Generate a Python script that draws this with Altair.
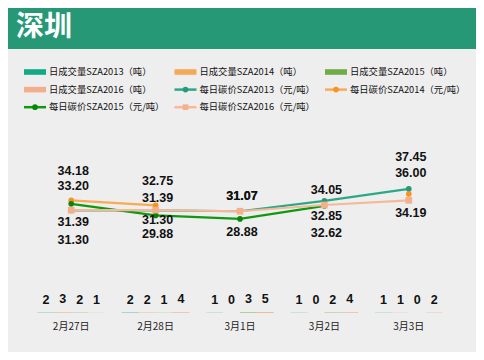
import altair as alt
import pandas as pd

# ---------------- data ----------------
dates = ["2月27日", "2月28日", "3月1日", "3月2日", "3月3日"]

bar_names = ["日成交量SZA2013（吨）", "日成交量SZA2014（吨）", "日成交量SZA2015（吨）", "日成交量SZA2016（吨）"]
line_names = ["每日碳价SZA2013（元/吨）", "每日碳价SZA2014（元/吨）", "每日碳价SZA2015（元/吨）", "每日碳价SZA2016（元/吨）"]

volume_2013 = [2, 2, 1, 1, 1]
volume_2014 = [3, 2, 0, 0, 1]
volume_2015 = [2, 1, 3, 2, 0]
volume_2016 = [1, 4, 5, 4, 2]

price_2013 = [31.30, 31.30, 31.07, 34.05, 37.45]
price_2014 = [34.18, 32.75, None, None, 36.00]
price_2015 = [33.20, 29.88, 28.88, 32.62, None]
price_2016 = [31.39, 31.39, 31.07, 32.85, 34.19]

# label nudges in pixels (keeps overlapping value labels apart, as in the source)
nudge_2013 = [30, 10, -15, -11, -32]
nudge_2014 = [-29, -24, 0, 0, -21]
nudge_2015 = [-18, 19, 13, 27, 0]
nudge_2016 = [12, -12, -15, 11, 13]

# ---------------- style ----------------
bar_colors = ["#12AA84", "#F4A957", "#70AD47", "#F4AE8E"]
line_colors = ["#2BA887", "#F9AA55", "#0E990E", "#F5B99A"]
marker_colors = ["#28997A", "#F7931E", "#0A850A", "#F4B08C"]
marker_shapes = ["circle", "circle", "circle", "square"]
header_color = "#269876"
bg_color = "#EEEEEE"
FONT = "Noto Sans CJK SC"
NUMFONT = "Liberation Sans"

W, H = 422, 168
PAD = {"left": 21, "top": 137, "right": 25, "bottom": 39}

# ---------------- tables ----------------
vols = [volume_2013, volume_2014, volume_2015, volume_2016]
bar_rows = []
for name, vv in zip(bar_names, vols):
    for d, v in zip(dates, vv):
        bar_rows.append({"date": d, "series": name, "vol": v})
bar_df = pd.DataFrame(bar_rows)

prices = [price_2013, price_2014, price_2015, price_2016]
nudges = [nudge_2013, nudge_2014, nudge_2015, nudge_2016]
line_rows = []
for k, (name, pp, nn) in enumerate(zip(line_names, prices, nudges)):
    seg = 0
    prev_none = False
    for d, p, n in zip(dates, pp, nn):
        if p is None:
            prev_none = True
            continue
        if prev_none:
            seg += 1
            prev_none = False
        line_rows.append({"date": d, "series": name, "k": k, "price": p,
                          "lab": f"{p:.2f}", "nudge": n, "seg": f"{k}-{seg}"})
line_df = pd.DataFrame(line_rows)

x_enc = alt.X("date:N", sort=dates,
              scale=alt.Scale(paddingInner=0.2, paddingOuter=0.1),
              axis=alt.Axis(title=None, domain=False, ticks=False, grid=False,
                            labelFont=FONT, labelFontSize=10, labelColor="#222",
                            labelPadding=8, labelAngle=0))

# ---------------- bars ----------------
bar_base = alt.Chart(bar_df).encode(
    x=x_enc,
    xOffset=alt.XOffset("series:N", sort=bar_names, scale=alt.Scale(paddingInner=0, paddingOuter=0)),
    y=alt.Y("vol:Q", scale=alt.Scale(domain=[0, 1000]), axis=None),
)
bars = bar_base.mark_bar().encode(
    color=alt.Color("series:N", scale=alt.Scale(domain=bar_names, range=bar_colors), legend=None)
)
bar_labels = bar_base.mark_text(font=NUMFONT, fontSize=12.5, fontWeight="bold",
                                baseline="bottom", dy=-6, color="#111").encode(text="vol:Q")
bar_layer = alt.layer(bars, bar_labels)

# ---------------- price lines ----------------
y_price = alt.Y("price:Q", scale=alt.Scale(domain=[2, 50]), axis=None)
price_layers = []
for k in range(4):
    src = alt.Chart(line_df).transform_filter(alt.datum.k == k)
    ln = src.mark_line(color=line_colors[k], strokeWidth=2.2).encode(
        x=x_enc, y=y_price, detail="seg:N")
    pt = src.mark_point(filled=True, opacity=1, color=marker_colors[k], shape=marker_shapes[k],
                        size=45 if marker_shapes[k] == "square" else 32).encode(x=x_enc, y=y_price)
    price_layers += [ln, pt]
for k in range(4):
    for n in sorted(set(line_df.loc[line_df.k == k, "nudge"])):
        src = alt.Chart(line_df).transform_filter((alt.datum.k == k) & (alt.datum.nudge == int(n)))
        tx = src.mark_text(font=NUMFONT, fontSize=12.5, fontWeight="bold", color="#111",
                           baseline="middle", dx=2, dy=int(n)).encode(
            x=x_enc, y=y_price, text="lab:N")
        price_layers.append(tx)
price_layer = alt.layer(*price_layers)

# ---------------- header & legend ----------------
one = pd.DataFrame({"a": [0]})
header = alt.Chart(one).mark_rect(color=header_color).encode(
    x=alt.value(-PAD["left"]), x2=alt.value(W + PAD["right"]),
    y=alt.value(-PAD["top"]), y2=alt.value(49 - 8 - PAD["top"]))
title = alt.Chart(one).mark_text(text="深圳", font=FONT, fontSize=28, fontWeight="bold",
                                 color="white", align="left", baseline="middle").encode(
    x=alt.value(16 - 8 - PAD["left"]), y=alt.value(28 - 8 - PAD["top"]))

leg_names = bar_names + line_names
leg_kind = ["bar"] * 4 + ["line"] * 4
leg_color = bar_colors + line_colors
leg_mcolor = ["none"] * 4 + marker_colors
leg_shape = ["square"] * 4 + marker_shapes
leg_rows = []
for i, (nm, kd, c, mc, sh) in enumerate(zip(leg_names, leg_kind, leg_color, leg_mcolor, leg_shape)):
    col, row = i % 3, i // 3
    x0 = 24 - 8 - PAD["left"] + col * 150.5
    yc = 72 - 8 - PAD["top"] + row * 17.6
    leg_rows.append({"name": nm, "kind": kd, "c": c, "mc": mc, "shape": sh,
                     "x1": x0, "x2": x0 + 22, "xm": x0 + 11, "yc": yc,
                     "y1": yc - 2.8, "y2": yc + 2.8, "tx": x0 + 25})
leg_df = pd.DataFrame(leg_rows)
leg = alt.Chart(leg_df)
leg_rect = leg.transform_filter(alt.datum.kind == "bar").mark_rect().encode(
    x=alt.X("x1:Q", scale=None), x2="x2:Q",
    y=alt.Y("y1:Q", scale=None), y2="y2:Q",
    color=alt.Color("c:N", scale=None))
leg_rule = leg.transform_filter(alt.datum.kind == "line").mark_rule(strokeWidth=2.5).encode(
    x=alt.X("x1:Q", scale=None), x2="x2:Q",
    y=alt.Y("yc:Q", scale=None),
    color=alt.Color("c:N", scale=None))
leg_pt = leg.transform_filter(alt.datum.kind == "line").mark_point(filled=True, opacity=1, size=32).encode(
    x=alt.X("xm:Q", scale=None), y=alt.Y("yc:Q", scale=None),
    color=alt.Color("mc:N", scale=None), shape=alt.Shape("shape:N", scale=None))
leg_txt = leg.mark_text(font=FONT, fontSize=9.3, align="left", baseline="middle", color="#111").encode(
    x=alt.X("tx:Q", scale=None), y=alt.Y("yc:Q", scale=None), text="name:N")

chart = alt.layer(
    header, title, leg_rect, leg_rule, leg_pt, leg_txt, bar_layer, price_layer
).resolve_scale(y="independent").properties(
    width=W, height=H,
    autosize=alt.AutoSizeParams(type="none"),
    padding=PAD,
    background=bg_color,
).configure_view(strokeWidth=0)

chart.save("out.html", embed_options={"renderer": "svg", "actions": False})
